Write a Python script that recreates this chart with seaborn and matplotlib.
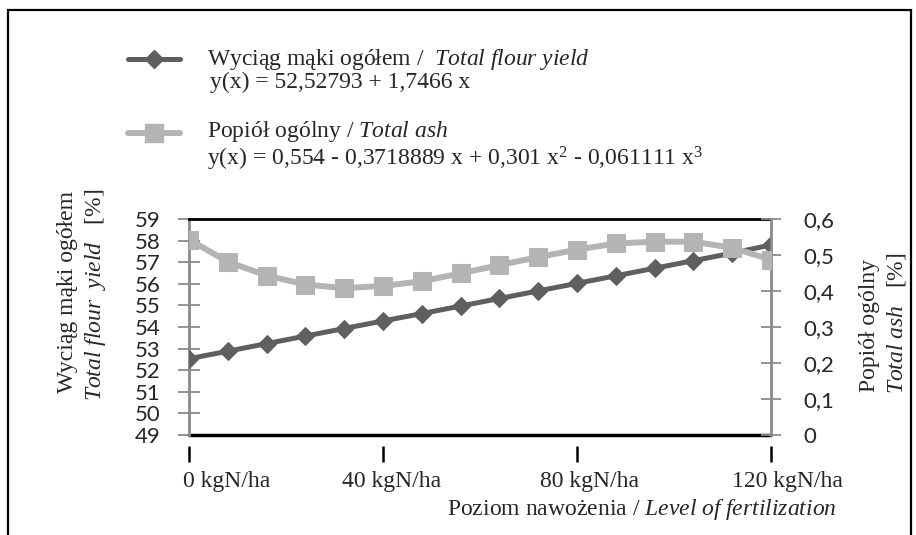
import matplotlib
matplotlib.use("Agg")
import matplotlib.pyplot as plt
import matplotlib.transforms as mtransforms
from matplotlib.lines import Line2D
from matplotlib.patches import Rectangle
import seaborn as sns

# data
dose = [0, 8, 16, 24, 32, 40, 48, 56, 64, 72, 80, 88, 96, 104, 112, 120]
flour_yield = [52.53, 52.88, 53.23, 53.58, 53.93, 54.28, 54.62, 54.97,
               55.32, 55.67, 56.02, 56.37, 56.72, 57.07, 57.42, 57.80]
total_ash = [0.543, 0.481, 0.443, 0.418, 0.408, 0.414, 0.427, 0.449,
             0.472, 0.494, 0.515, 0.532, 0.537, 0.537, 0.520, 0.487]
x_ticks = [0, 40, 80, 120]
x_labels = ["0 kgN/ha", "40 kgN/ha", "80 kgN/ha", "120 kgN/ha"]
left_ticks = list(range(49, 60))
right_ticks = [0, 0.1, 0.2, 0.3, 0.4, 0.5, 0.6]
right_labels = ["0", "0,1", "0,2", "0,3", "0,4", "0,5", "0,6"]

dark = "#5f5f5f"
light = "#b4b4b4"
axis_gray = "#8a8a8a"

sns.set_style("white")
plt.rcParams["font.family"] = ["Liberation Serif", "DejaVu Serif"]
plt.rcParams["mathtext.fontset"] = "custom"
plt.rcParams["mathtext.rm"] = "Liberation Serif"
plt.rcParams["mathtext.it"] = "Liberation Serif:italic"
plt.rcParams["mathtext.bf"] = "Liberation Serif:bold"

W, H = 916, 535
fig = plt.figure(figsize=(W / 100, H / 100), dpi=100)
fig.patch.set_facecolor("white")

def fx(px):
    return px / W

def fy(py):
    return 1 - py / H

ax = fig.add_axes([fx(189), fy(435), fx(771) - fx(189), fy(219) - fy(435)])
ax2 = ax.twinx()

sns.lineplot(x=dose, y=flour_yield, ax=ax, color=dark, marker="D",
             markersize=9, markeredgecolor=dark, linewidth=3.6, zorder=3)
sns.lineplot(x=dose, y=total_ash, ax=ax2, color=light, marker="s",
             markersize=13, markeredgecolor=light, linewidth=4.3, zorder=3)

ax.set_xlim(0, 120)
ax.set_ylim(49, 59)
ax2.set_ylim(0, 0.6)

ax.set_yticks(left_ticks)
ax.set_yticklabels([str(v) for v in left_ticks], fontfamily="Lato", fontsize=16)
ax2.set_yticks(right_ticks)
ax2.set_yticklabels(right_labels, fontfamily="Lato", fontsize=16)

ax.tick_params(axis="y", left=True, direction="inout", length=16, width=1.3,
               color=axis_gray, pad=12.5)
ax2.tick_params(axis="y", right=True, direction="inout", length=15, width=1.3,
                color=axis_gray, pad=16)

# x axis: detached tick marks below the black base line
ax.spines["bottom"].set_position(("outward", 8))
ax.spines["bottom"].set_visible(False)
ax.set_xticks(x_ticks)
ax.set_xticklabels(x_labels, fontsize=17)
ax.tick_params(axis="x", bottom=True, direction="out", length=11.5, width=1.8,
               color="black", pad=6.5)
shifts = [-6, 9, 12, 16]
aligns = ["left", "center", "center", "center"]
for lab, dx, ha in zip(ax.get_xticklabels(), shifts, aligns):
    lab.set_ha(ha)
    lab.set_transform(lab.get_transform() +
                      mtransforms.ScaledTranslation(dx / 100, 0, fig.dpi_scale_trans))

ax.axhline(49, color="black", linewidth=2.5, zorder=1, clip_on=False)
ax.spines["top"].set_color("black")
ax.spines["top"].set_linewidth(2)
ax.spines["left"].set_color(axis_gray)
ax.spines["left"].set_linewidth(2)
ax.spines["right"].set_visible(False)
for side in ["top", "bottom", "left"]:
    ax2.spines[side].set_visible(False)
ax2.spines["right"].set_color(axis_gray)
ax2.spines["right"].set_linewidth(2)
ax.set_xlabel("")
ax.set_ylabel("")
ax2.set_ylabel("")
ax.grid(False)
ax2.grid(False)

# axis titles
fs = 17
fig.text(fx(68), fy(292), "Wyciąg mąki ogółem", rotation=90,
         ha="center", va="center", fontsize=fs)
fig.text(fx(96), fy(295), r"$\mathit{Total\ flour\ \ yield}$   [%]", rotation=90,
         ha="center", va="center", fontsize=fs)
fig.text(fx(869), fy(325), "Popiół ogólny", rotation=90,
         ha="center", va="center", fontsize=fs)
fig.text(fx(897), fy(323), r"$\mathit{Total\ ash}$   [%]", rotation=90,
         ha="center", va="center", fontsize=fs)
fig.text(fx(837), fy(515), r"Poziom nawożenia / $\mathit{Level\ of\ fertilization}$",
         ha="right", va="baseline", fontsize=fs)

# legend drawn by hand
for yy, col, mk, ms, lw in [(59, dark, "D", 9, 3.6), (133, light, "s", 13, 4.3)]:
    fig.add_artist(Line2D([fx(128), fx(154), fx(180)], [fy(yy)] * 3,
                          color=col, linewidth=lw, marker=mk, markersize=ms,
                          markevery=[1], markeredgecolor=col))
fig.text(fx(207), fy(59), r"Wyciąg mąki ogółem /  $\mathit{Total\ flour\ yield}$",
         ha="left", va="center", fontsize=fs)
fig.text(fx(210), fy(82), "y(x) = 52,52793 + 1,7466 x",
         ha="left", va="center", fontsize=fs)
fig.text(fx(207), fy(132), r"Popiół ogólny / $\mathit{Total\ ash}$",
         ha="left", va="center", fontsize=fs)
fig.text(fx(207), fy(159), r"y(x) = 0,554 - 0,3718889 x + 0,301 x$^2$ - 0,061111 x$^3$",
         ha="left", va="center", fontsize=fs)

# outer frame, open at the bottom
fig.add_artist(Rectangle((fx(8), -0.1), fx(911) - fx(8), fy(10) + 0.1,
                         transform=fig.transFigure, fill=False,
                         edgecolor="black", linewidth=1.6))

fig.savefig("out.png", dpi=100)
